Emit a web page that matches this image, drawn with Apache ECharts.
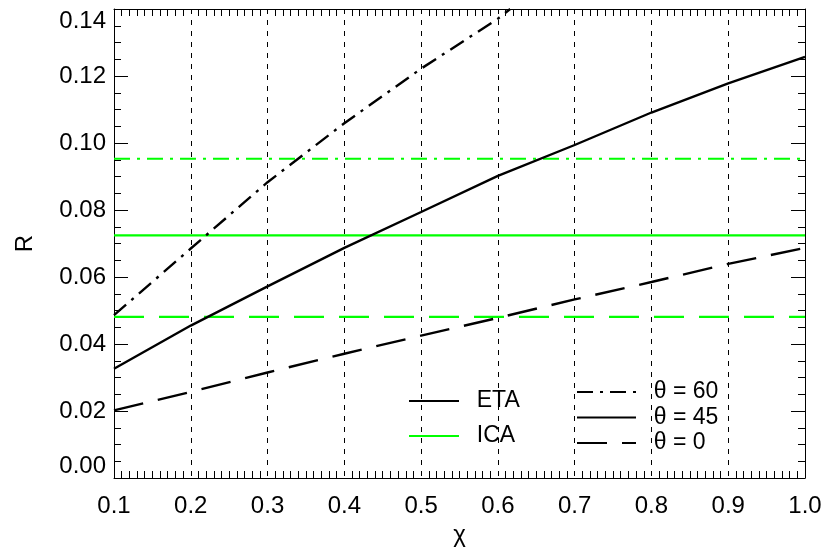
<!DOCTYPE html>
<html>
<head>
<meta charset="utf-8">
<script src="https://cdn.jsdelivr.net/npm/echarts@6/dist/echarts.min.js"></script>
<style>
  html, body { margin: 0; padding: 0; background: #fff; }
  #chart { width: 825px; height: 552px; }
</style>
</head>
<body>
<div id="chart"></div>
<script>
// Ratio R versus chi for three viewing angles (ETA curves) and ICA reference levels
const chi = [0.1, 0.2, 0.3, 0.4, 0.5, 0.6, 0.7, 0.8, 0.9, 1.0];
const chi60 = [0.1, 0.2, 0.3, 0.4, 0.5, 0.6, 0.616];
const etaTheta60 = [0.0486, 0.0685, 0.0883, 0.1059, 0.1222, 0.1371, 0.1400];
const etaTheta45 = [0.0326, 0.0455, 0.0572, 0.0687, 0.0794, 0.0902, 0.0994, 0.1091, 0.1178, 0.1257];
const etaTheta0  = [0.0202, 0.0257, 0.0315, 0.0371, 0.0425, 0.0478, 0.0533, 0.0585, 0.0639, 0.0687];
const icaLevels = [0.0953, 0.0724, 0.0481];   // theta = 60, 45, 0
const thetaNames = ['θ = 60', 'θ = 45', 'θ = 0'];
const yTicks = [0, 0.02, 0.04, 0.06, 0.08, 0.10, 0.12, 0.14];

const FONT = "'Liberation Sans', Arial, sans-serif";
const GREEN = '#00ff00';
const DASHDOT = [16, 7, 3, 7];
const DASHED = [30, 15];
const styles = ['dashdot', 'solid', 'dashed'];
function dashOf(s) { return s === 'dashdot' ? DASHDOT : (s === 'dashed' ? DASHED : 'solid'); }

const pairs = (xs, ys) => xs.map((x, i) => [x, ys[i]]);

const series = [];
// legend-only entries for the curve families
series.push({ name: 'ETA', type: 'line', data: [], symbol: 'none',
  lineStyle: { color: '#000', width: 2.4 } });
series.push({ name: 'ICA', type: 'line', data: [], symbol: 'none',
  lineStyle: { color: GREEN, width: 2.4 } });

// ICA horizontal levels
icaLevels.forEach((v, i) => {
  series.push({
    name: 'ICA ' + thetaNames[i], type: 'line', symbol: 'none', silent: true,
    data: [[chi[0], v], [chi[chi.length - 1], v]],
    lineStyle: { color: GREEN, width: 2.2, type: dashOf(styles[i]) },
    z: 3
  });
});

// ETA curves
const etaData = [pairs(chi60, etaTheta60), pairs(chi, etaTheta45), pairs(chi, etaTheta0)];
etaData.forEach((d, i) => {
  series.push({
    name: thetaNames[i], type: 'line', symbol: 'none', silent: true,
    data: d, clip: true,
    lineStyle: { color: '#000', width: 2.4, type: dashOf(styles[i]) },
    z: 4
  });
});

const textBase = { fontFamily: FONT, fontSize: 24, color: '#000' };
const legendText = { fontFamily: FONT, fontSize: 23, color: '#000', lineHeight: 24 };

const xCommon = {
  type: 'value', min: 0.1, max: 1.0, interval: 0.1,
  axisLine: { show: true, onZero: false, lineStyle: { color: '#000', width: 1 } },
  axisTick: { show: false, inside: true },
  minorTick: { show: true, splitNumber: 10, length: 7, lineStyle: { color: '#000', width: 1 } },
  minorSplitLine: { show: false }
};
const yCommon = {
  type: 'value', min: 0, max: 0.14, interval: 0.02,
  axisLine: { show: true, onZero: false, lineStyle: { color: '#000', width: 1 } },
  axisTick: { show: true, inside: true, length: 14, lineStyle: { color: '#000', width: 1 } },
  minorTick: { show: true, splitNumber: 4, length: 7, lineStyle: { color: '#000', width: 1 } },
  splitLine: { show: false }
};

const option = {
  backgroundColor: '#fff',
  animation: false,
  grid: { left: 114, top: 9, right: 20, bottom: 73, containLabel: false },
  xAxis: [
    Object.assign({}, xCommon, {
      position: 'bottom',
      name: 'χ', nameLocation: 'middle', nameGap: 45,
      nameTextStyle: Object.assign({}, textBase),
      axisLabel: Object.assign({}, textBase, { margin: 16,
        formatter: v => v.toFixed(1) }),
      splitLine: { show: true, lineStyle: { color: '#000', width: 1, type: [5, 6] } }
    }),
    Object.assign({}, xCommon, {
      position: 'top',
      axisLabel: { show: false },
      splitLine: { show: false }
    })
  ],
  yAxis: [
    Object.assign({}, yCommon, {
      position: 'left',
      name: 'R', nameLocation: 'middle', nameGap: 77, nameRotate: 90,
      nameTextStyle: Object.assign({}, textBase),
      axisLabel: Object.assign({}, textBase, { margin: 8,
        verticalAlignMaxLabel: 'top', verticalAlignMinLabel: 'bottom',
        customValues: yTicks,
        formatter: v => v.toFixed(2) })
    }),
    Object.assign({}, yCommon, {
      position: 'right',
      axisLabel: { show: false }
    })
  ],
  legend: [
    {
      data: ['ETA', 'ICA'], orient: 'vertical', left: 403, top: 384,
      itemWidth: 50, itemHeight: 14, itemGap: 11,
      itemStyle: { opacity: 0 },
      textStyle: legendText,
      formatter: n => '  ' + n,
      selectedMode: false
    },
    {
      data: thetaNames, orient: 'vertical', left: 571, top: 375,
      itemWidth: 59, itemHeight: 14, itemGap: 1.5,
      itemStyle: { opacity: 0 },
      textStyle: legendText,
      formatter: n => '  ' + n,
      selectedMode: false
    }
  ],
  series: series
};

const chart = echarts.init(document.getElementById('chart'), null, { renderer: 'canvas' });
chart.setOption(option);
</script>
</body>
</html>
